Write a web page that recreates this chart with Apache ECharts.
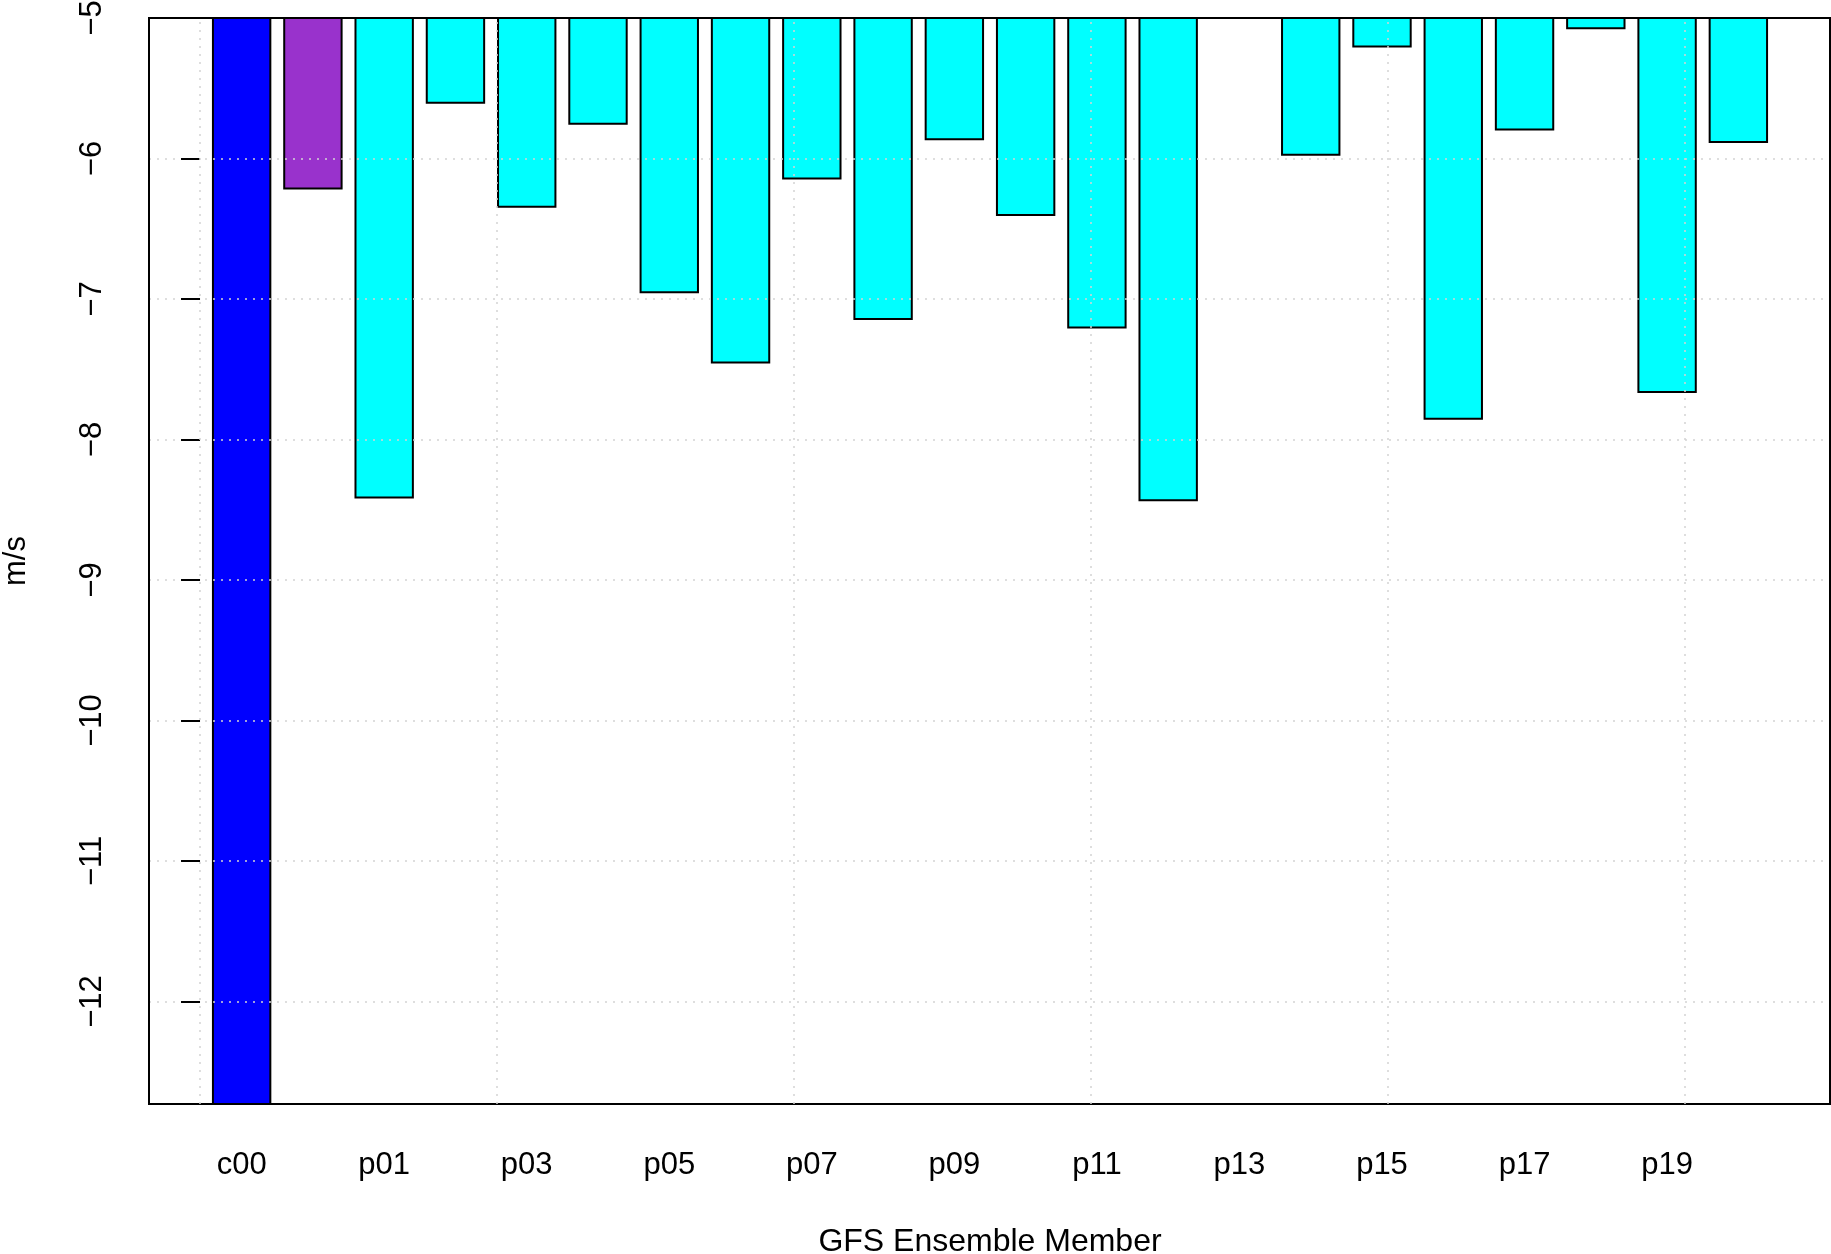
<!DOCTYPE html>
<html>
<head>
<meta charset="utf-8">
<script src="https://cdn.jsdelivr.net/npm/echarts@6/dist/echarts.min.js"></script>
<style>
    html, body { margin: 0; padding: 0; background: #fff; }
    #main { width: 1831px; height: 1254px; }
</style>
</head>
<body>
<div id="main"></div>
<script>
    // members, the 2nd one is the ensemble mean (its label is hidden like in R)
    var members = ['c00', 'avg', 'p01', 'p02', 'p03', 'p04', 'p05', 'p06', 'p07', 'p08', 'p09', 'p10',
                   'p11', 'p12', 'p13', 'p14', 'p15', 'p16', 'p17', 'p18', 'p19', 'p20'];
    var values = [-13.2, -6.22, -8.42, -5.61, -6.35, -5.76, -6.96, -7.46, -6.15, -7.15, -5.87, -6.41,
                  -7.21, -8.44, -5.0, -5.98, -5.21, -7.86, -5.80, -5.08, -7.67, -5.89];
    var barColors = ['#0000ff', '#9932cc', '#00ffff', '#00ffff', '#00ffff', '#00ffff', '#00ffff', '#00ffff',
                     '#00ffff', '#00ffff', '#00ffff', '#00ffff', '#00ffff', '#00ffff', '#00ffff', '#00ffff',
                     '#00ffff', '#00ffff', '#00ffff', '#00ffff', '#00ffff', '#00ffff'];
    var yTicks = [-12, -11, -10, -9, -8, -7, -6, -5];
    var yMin = -12.73, yMax = -5;
    // R barplot user x range (space 0.2, width 1) and grid() positions
    var xMin = -0.859, xMax = 27.44;
    var xGridTicks = [0, 5, 10, 15, 20, 25];

    var font = 'Liberation Sans, Arial, sans-serif';
    var gridLine = { color: '#d3d3d3', width: 1.5, type: [2, 6] };

    var chart = echarts.init(document.getElementById('main'));

    var option = {
        animation: false,
        textStyle: { fontFamily: font },
        grid: [
            // plot box, y axis, grid lines
            { left: 149, right: 1, top: 18, bottom: 150, show: true, borderColor: '#000', borderWidth: 2, z: 4,
              outerBoundsMode: 'none', containLabel: false },
            // bars: category bands span user x 0.1 .. 26.5
            { left: 206, right: 57, top: 18, bottom: 150, outerBoundsMode: 'none', containLabel: false }
        ],
        xAxis: [
            { gridIndex: 0, type: 'value', min: xMin, max: xMax, show: false },
            {
                gridIndex: 1, type: 'category', data: members,
                axisLine: { show: false }, axisTick: { show: false }, splitLine: { show: false },
                axisLabel: { interval: 1, margin: 46, fontSize: 31, color: '#000', fontFamily: font },
                name: 'GFS Ensemble Member', nameLocation: 'middle', nameGap: 122,
                nameTextStyle: { fontSize: 32, color: '#000', fontFamily: font }
            }
        ],
        yAxis: [
            {
                gridIndex: 0, type: 'value', min: yMin, max: yMax, minInterval: 1, maxInterval: 1, z: 3,
                axisLine: { show: false },
                axisTick: { show: true, length: 19, customValues: yTicks, lineStyle: { color: '#000', width: 2 } },
                axisLabel: {
                    customValues: yTicks, rotate: 90, margin: 41, fontSize: 31, color: '#000', fontFamily: font,
                    formatter: function (v) { return (v < 0 ? '\u2212' : '') + Math.abs(v); }
                },
                splitLine: { show: true, lineStyle: gridLine },
                name: 'm/s', nameLocation: 'middle', nameGap: 117, nameRotate: 90,
                nameTextStyle: { fontSize: 31, color: '#000', fontFamily: font }
            },
            { gridIndex: 1, type: 'value', min: yMin, max: yMax, show: false }
        ],
        series: [
            {
                type: 'bar',
                xAxisIndex: 1, yAxisIndex: 1,
                barCategoryGap: '16.67%',
                z: 2,
                data: values.map(function (v, i) {
                    return { value: v, itemStyle: { color: barColors[i] } };
                }),
                itemStyle: { borderColor: '#000', borderWidth: 2 }
            },
            {
                // vertical grid lines of R's grid(), drawn over the bars
                type: 'line', xAxisIndex: 0, yAxisIndex: 0, data: [], z: 3,
                markLine: {
                    silent: true, symbol: 'none', label: { show: false },
                    lineStyle: gridLine,
                    data: xGridTicks.map(function (x) { return { xAxis: x }; })
                }
            }
        ]
    };

    chart.setOption(option);
</script>
</body>
</html>
